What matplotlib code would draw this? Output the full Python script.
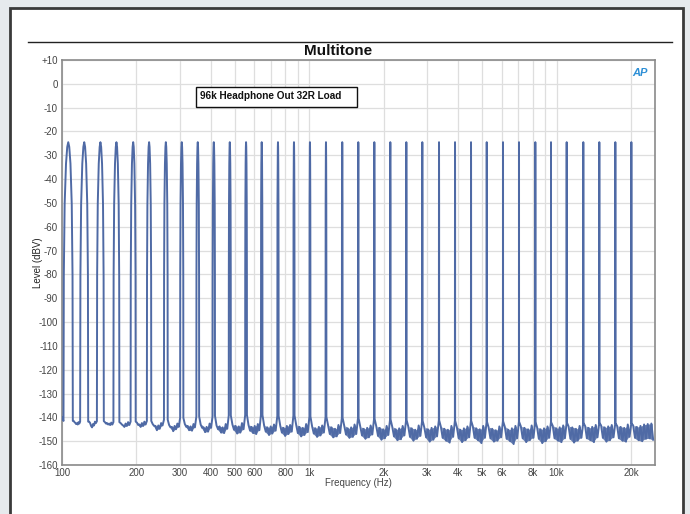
import numpy as np
import matplotlib.pyplot as plt
from matplotlib.patches import Rectangle
from matplotlib.lines import Line2D

plt.rcParams['font.family'] = ['Liberation Sans', 'DejaVu Sans']

tone_hz = [106, 123, 143, 166, 194, 225, 263, 305, 354, 411, 477, 555,
           642, 747, 867, 1006, 1168, 1359, 1578, 1832, 2126, 2468, 2864, 3346,
           3884, 4508, 5218, 6072, 7047, 8203, 9493, 10986, 12823, 14884, 17279, 20057]
tone_db = [-24.5] * len(tone_hz)

# main lobe shape of one tone (offset in Hz, dB below the tone), read from the 106 Hz peak
lobe_hz = [-4.3, -3.5, -2.2, -1.0, 0.0, 1.0, 2.2, 3.5, 4.3]
lobe_drop = [56, 26, 9, 2, 0, 2, 9, 26, 56]

# floor level right at the foot of each tone
shoulder_db = [-141.5, -141.8, -141.6, -142.0, -141.8, -141.5, -141.0, -140.2, -139.6, -139.4,
               -139.2, -139.0, -139.0, -139.4, -139.2, -139.6, -139.8, -140.2, -140.4, -140.6,
               -140.8, -141.0, -141.2, -141.2, -141.4, -141.4, -141.6, -141.6, -141.8, -141.8,
               -142.0, -142.0, -142.2, -142.2, -142.4, -142.4]

# noise floor between tones: upper / lower edge of the trace (dBV), gap k lies before tone k
floor_top = [
    [-140.0],
    [-141.5, -142.3, -142.5, -142.0],
    [-141.8, -143.6, -142.8, -141.8],
    [-142.0, -142.4, -142.6, -142.2],
    [-142.4, -143.4, -142.6, -142.0],
    [-142.2, -143.0, -142.4, -141.8],
    [-142.8, -143.6, -143.4, -142.4],
    [-143.2, -144.0, -143.6, -142.6],
    [-142.8, -143.6, -143.8, -142.8],
    [-143.0, -144.2, -144.0, -142.6],
    [-143.4, -143.8, -144.2, -142.8],
    [-143.0, -143.6, -143.8, -142.4],
    [-143.2, -144.0, -143.6, -142.8],
    [-143.4, -144.2, -143.8, -143.0],
    [-143.6, -144.4, -143.6, -143.2],
    [-143.2, -144.0, -144.4, -142.8],
    [-143.8, -144.6, -144.0, -143.4],
    [-143.4, -144.2, -144.8, -143.2],
    [-143.6, -144.6, -144.2, -143.0],
    [-144.0, -144.8, -144.4, -143.4],
    [-143.8, -144.4, -145.0, -143.6],
    [-144.0, -145.0, -144.6, -143.6],
    [-143.8, -144.6, -145.2, -143.4],
    [-144.2, -145.0, -144.4, -143.8],
    [-144.0, -144.8, -145.2, -143.6],
    [-144.2, -145.2, -144.6, -143.8],
    [-143.8, -144.6, -145.0, -143.6],
    [-144.2, -144.8, -145.4, -143.8],
    [-144.0, -145.2, -144.6, -143.6],
    [-143.8, -144.4, -145.0, -143.4],
    [-144.2, -145.0, -144.6, -143.8],
    [-143.6, -144.6, -144.2, -143.4],
    [-143.8, -144.2, -144.8, -143.6],
    [-143.6, -144.4, -144.0, -143.2],
    [-143.4, -144.2, -143.8, -143.2],
    [-143.6, -144.0, -144.4, -143.0],
    [-143.4, -144.0, -143.6, -143.0, -142.8, -142.6],
]
floor_bot = [
    [-141.0],
    [-142.0, -142.8, -143.0, -142.6],
    [-142.4, -144.2, -143.4, -142.4],
    [-142.6, -143.0, -143.2, -143.0],
    [-143.0, -144.0, -143.6, -143.2],
    [-143.2, -144.0, -143.6, -143.0],
    [-143.6, -145.4, -144.8, -143.4],
    [-144.2, -145.8, -145.0, -144.0],
    [-144.0, -145.4, -145.6, -144.2],
    [-144.4, -146.2, -146.0, -144.4],
    [-145.0, -146.4, -146.6, -144.8],
    [-145.2, -146.8, -146.4, -145.0],
    [-145.6, -146.6, -147.0, -145.4],
    [-146.0, -147.4, -146.8, -145.6],
    [-146.4, -147.8, -147.0, -146.0],
    [-146.6, -148.0, -147.4, -146.2],
    [-146.8, -148.2, -147.6, -146.4],
    [-147.0, -148.4, -148.0, -146.6],
    [-147.2, -148.6, -148.2, -147.0],
    [-147.6, -149.0, -148.4, -147.2],
    [-147.8, -149.4, -148.8, -147.4],
    [-148.0, -149.6, -149.2, -147.6],
    [-148.2, -149.8, -149.0, -147.8],
    [-148.4, -150.2, -149.4, -148.0],
    [-148.6, -149.8, -150.6, -148.2],
    [-148.8, -150.4, -149.6, -148.4],
    [-148.6, -149.6, -150.8, -148.6],
    [-148.8, -150.2, -149.8, -148.4],
    [-149.0, -150.0, -151.2, -148.8],
    [-148.8, -150.4, -149.6, -148.6],
    [-149.0, -150.8, -150.0, -148.6],
    [-148.8, -149.8, -150.4, -148.8],
    [-149.0, -150.6, -149.8, -148.6],
    [-148.8, -149.6, -150.4, -148.4],
    [-148.6, -150.2, -149.6, -148.4],
    [-148.8, -149.8, -150.2, -148.2],
    [-148.6, -149.6, -150.0, -149.0, -148.8, -149.4],
]

x_ticks = [100, 200, 300, 400, 500, 600, 800, 1000, 2000, 3000, 4000, 5000, 6000, 8000, 10000, 20000]
x_tick_labels = ['100', '200', '300', '400', '500', '600', '800', '1k', '2k', '3k', '4k', '5k', '6k', '8k', '10k', '20k']
x_extra_grid = [700, 900, 7000, 9000]
y_ticks = list(range(-160, 11, 10))

f_lo, f_hi = 100, 25000
line_color = '#4f6aa5'

# ---- build the trace ----
xs, ys = [], []
band_x, band_top, band_bot = [], [], []
for k in range(len(tone_hz) + 1):
    lo = f_lo if k == 0 else tone_hz[k - 1] + 4.6
    hi = tone_hz[k] - 4.6 if k < len(tone_hz) else f_hi
    top, bot = floor_top[k], floor_bot[k]
    n = len(top)
    pos = np.geomspace(lo, hi, 2 * n + 2)
    if k > 0:
        xs.append(pos[0]); ys.append(shoulder_db[k - 1])
    zx, ztop, zbot = [], [], []
    for j in range(n):
        xs += [pos[2 * j + 1], pos[2 * j + 2]]
        ys += [top[j], bot[j]]
        zx.append(0.5 * (pos[2 * j + 1] + pos[2 * j + 2]))
        ztop.append(top[j]); zbot.append(bot[j])
    band_x.append(zx); band_top.append(ztop); band_bot.append(zbot)
    if k < len(tone_hz):
        xs.append(pos[-1]); ys.append(shoulder_db[k])
        for dh, dd in zip(lobe_hz, lobe_drop):
            xs.append(tone_hz[k] + dh)
            ys.append(tone_db[k] - dd)

fig = plt.figure(figsize=(6.9, 5.14), dpi=100, facecolor='#e6eaed')
fig.patches.append(Rectangle((10 / 690, -0.05), 673 / 690, 1 - 8 / 514 + 0.05,
                             transform=fig.transFigure, facecolor='white',
                             edgecolor='#3a3a3a', linewidth=2, zorder=-10))
fig.lines.append(Line2D([28 / 690, 672 / 690], [1 - 42 / 514] * 2,
                        transform=fig.transFigure, color='#222222', linewidth=1, zorder=-5))

ax = fig.add_axes([62 / 690, 49 / 514, 593 / 690, 405 / 514])
ax.set_zorder(2)
ax.set_xscale('log')
ax.set_xlim(f_lo, f_hi)
ax.set_ylim(-160, 10)

for bx, bt, bb in zip(band_x, band_top, band_bot):
    if len(bx) > 1:
        ax.fill_between(bx, bt, bb, color=line_color, alpha=0.85, linewidth=0, zorder=2)
ax.plot(xs, ys, color=line_color, linewidth=1.4, zorder=3)

ax.set_xticks(x_ticks)
ax.set_xticklabels(x_tick_labels)
ax.set_xticks(x_extra_grid, minor=True)
ax.xaxis.set_minor_formatter(plt.NullFormatter())
ax.set_yticks(y_ticks)
ax.set_yticklabels(['+10' if v > 0 else str(v) for v in y_ticks])
ax.tick_params(axis='both', which='both', length=0, labelsize=7, colors='#444444', pad=3)
ax.tick_params(axis='x', pad=2)
ax.grid(True, which='both', color='#dedede', linewidth=0.9)
ax.set_axisbelow(True)
for s in ax.spines.values():
    s.set_color('#8a8a8a')
    s.set_linewidth(1.2)

ax.set_xlabel('Frequency (Hz)', fontsize=7, color='#444444', labelpad=0)
ax.set_ylabel('Level (dBV)', fontsize=7, color='#222222')
ax.yaxis.set_label_coords(-0.032, 0.5)

fig.text(338 / 690, 1 - 51 / 514, 'Multitone', ha='center', va='center',
         fontsize=11, fontweight='bold', color='#111111')

# legend box
ax.add_patch(Rectangle((0.226, 0.884), 0.271, 0.049, transform=ax.transAxes,
                       facecolor='white', edgecolor='#111111', linewidth=1, zorder=5))
ax.text(0.232, 0.912, '96k Headphone Out 32R Load', transform=ax.transAxes,
        ha='left', va='center', fontsize=7.2, fontweight='bold', color='#111111',
        family=['Liberation Sans Narrow', 'Liberation Sans', 'DejaVu Sans'], zorder=6)
ax.text(0.975, 0.967, 'AP', transform=ax.transAxes, ha='center', va='center',
        fontsize=8, fontweight='bold', fontstyle='italic', color='#2d8fd6', zorder=5)

fig.savefig('out.png', dpi=100, facecolor=fig.get_facecolor())
